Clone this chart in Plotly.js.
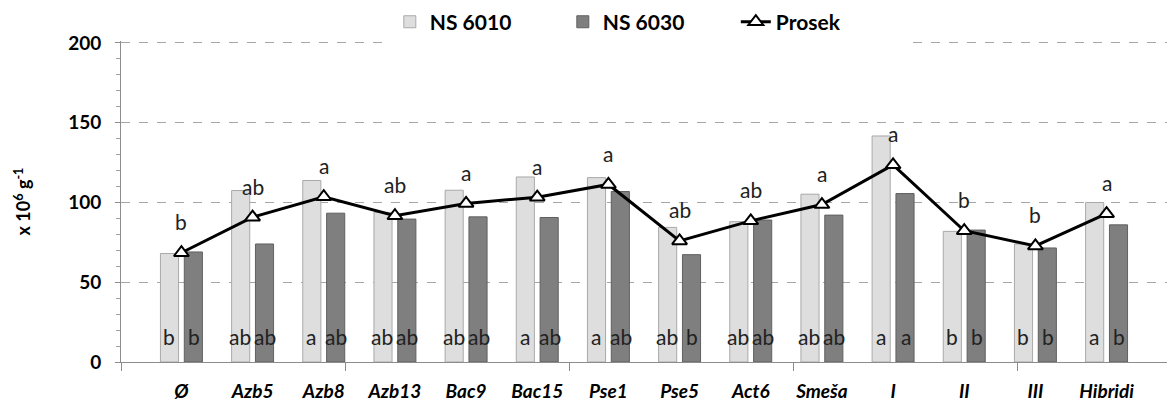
<!DOCTYPE html>
<html><head><meta charset="utf-8">
<script src="https://cdn.plot.ly/plotly-3.0.1.min.js"></script>
<style>html,body{margin:0;padding:0;background:#fff}</style>
</head><body><div id="chart" style="width:1167px;height:404px"></div>
<script>
const categories = ['Ø','Azb5','Azb8','Azb13','Bac9','Bac15','Pse1','Pse5','Act6','Smeša','I','II','III','Hibridi'];
const ns6010 = [68, 107.5, 113.8, 93.8, 107.7, 116, 115.6, 84.4, 88, 105.2, 141.7, 81.9, 74, 100];
const ns6030 = [69, 74, 93.3, 89.6, 91, 90.6, 106.9, 67.3, 89, 92.1, 105.6, 82.7, 71.5, 86];
const prosek = [68.5, 90.8, 103.6, 91.7, 99.4, 103.3, 111.3, 75.9, 88.5, 98.7, 123.6, 82.3, 72.8, 93];
const topLetters = ['b','ab','a','ab','a','a','a','ab','ab','a','a','b','b','a'];
const letters6010 = ['b','ab','a','ab','ab','a','a','ab','ab','ab','a','b','b','a'];
const letters6030 = ['b','ab','ab','ab','ab','ab','ab','b','ab','ab','a','b','b','b'];
const yTickVals = [0, 50, 100, 150, 200];
const groupTickVals = [-0.5, 2.5, 5.5, 8.5, 11.5];

const FONT = 'Lato, "Open Sans", sans-serif';

const traces = [
  {type:'bar', name:'NS 6010', x:categories, y:ns6010,
   marker:{color:'#dedede', line:{color:'#a9a9a9', width:1}}},
  {type:'bar', name:'NS 6030', x:categories, y:ns6030,
   marker:{color:'#7f7f7f', line:{color:'#606060', width:1}}},
  {type:'scatter', mode:'lines+markers', name:'Prosek', x:categories, y:prosek,
   line:{color:'#000', width:3},
   marker:{symbol:'triangle-up', size:13, color:'#fff', line:{color:'#000', width:2}}},
  {type:'scatter', mode:'markers', x:[], y:[], xaxis:'x2', yaxis:'y', showlegend:false, hoverinfo:'skip'}
];

const annotations = [];
const letterFont = {family:FONT, size:21, color:'#222'};
categories.forEach((c, i) => {
  annotations.push({x:c, y:prosek[i], yshift:31, text:topLetters[i], showarrow:false, font:letterFont});
  annotations.push({x:c, y:15.8, xshift:-12.5, text:letters6010[i], showarrow:false, font:letterFont});
  annotations.push({x:c, y:15.8, xshift:12.5, text:letters6030[i], showarrow:false, font:letterFont});
});

const layout = {
  width:1167, height:404,
  margin:{l:121, r:0, t:41, b:42},
  paper_bgcolor:'#fff', plot_bgcolor:'#fff',
  font:{family:FONT, color:'#000'},
  barmode:'group', bargap:0.33, bargroupgap:0.24,
  showlegend:true,
  legend:{orientation:'h', x:0.257, xanchor:'left', y:0.995, yanchor:'bottom',
          font:{family:FONT, size:21, weight:'bold', color:'#000'},
          entrywidth:128, entrywidthmode:'pixels'},
  xaxis:{type:'category', showgrid:false, zeroline:false, showline:true, linecolor:'#8c8c8c', linewidth:1,
         ticks:'', ticklabelstandoff:12,
         tickfont:{family:FONT, size:19, weight:'bold', style:'italic', color:'#000'}},
  xaxis2:{overlaying:'x', anchor:'y', side:'bottom', range:[-0.5, 13.5], tickmode:'array', tickvals:groupTickVals,
          ticks:'outside', ticklen:8, tickcolor:'#8c8c8c', showticklabels:false, showgrid:false, zeroline:false, showline:false},
  yaxis:{range:[0, 201.25], tickmode:'array', tickvals:yTickVals, showline:true, linecolor:'#8c8c8c', linewidth:1,
         ticks:'outside', ticklen:5, tickcolor:'#8c8c8c', ticklabelstandoff:10,
         minor:{dtick:10, ticks:'outside', ticklen:4, tickcolor:'#a0a0a0', showgrid:false},
         showgrid:true, gridcolor:'#a6a6a6', griddash:'dash', gridwidth:1, zeroline:false,
         tickfont:{family:FONT, size:19, weight:'bold', color:'#000'},
         title:{text:'x 10<sup>6</sup> g<sup>-1</sup>', standoff:32, font:{family:FONT, size:18, weight:'bold', color:'#000'}}},
  annotations:annotations,
  hovermode:false
};

Plotly.newPlot('chart', traces, layout, {staticPlot:true, displayModeBar:false});
</script>
</body></html>
